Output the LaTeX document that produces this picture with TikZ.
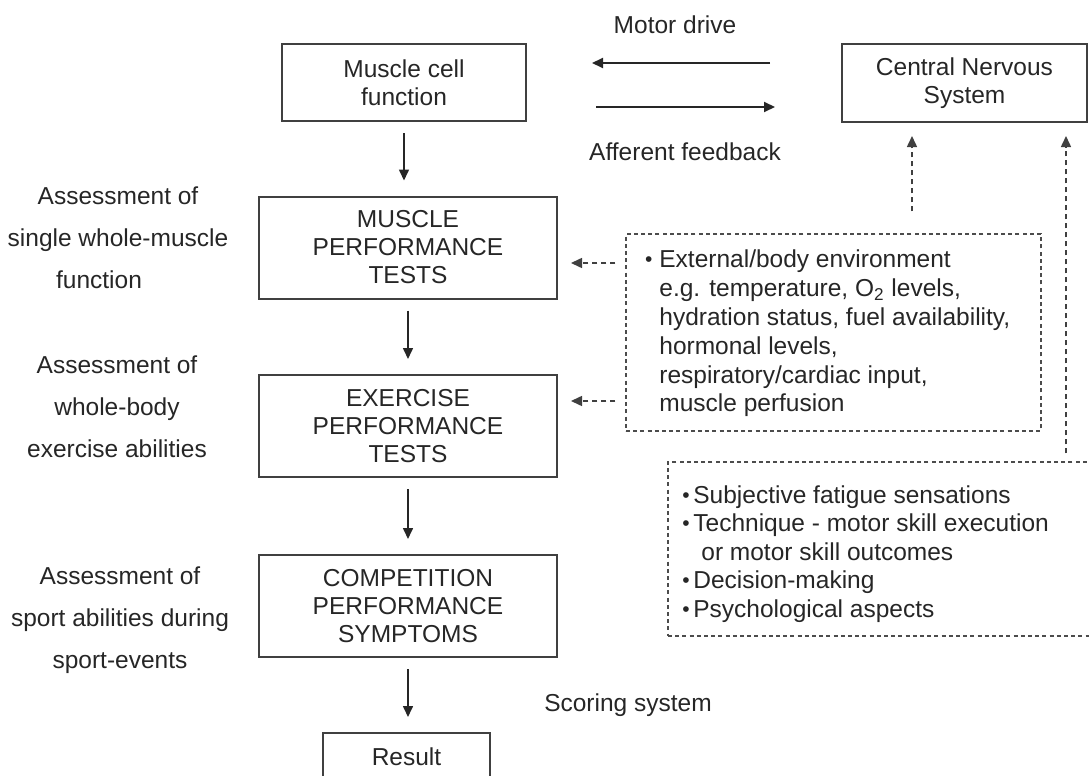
\documentclass[tikz,border=0pt]{standalone}
\usepackage{fontspec}
\setmainfont{Liberation Sans}
\usetikzlibrary{arrows.meta}
\newcommand\bul{\raisebox{0.6pt}{\fontsize{10.5}{10.5}\selectfont\textbullet}}
\begin{document}
\begin{tikzpicture}[x=0.5pt,y=-0.5pt,
  every node/.style={font=\fontsize{12.25}{14}\selectfont, text=black!85, inner sep=0pt},
  box/.style={draw=black!75, line width=1pt, align=center},
  dbox/.style={draw=black!70, line width=0.75pt, dash pattern=on 2pt off 1.6pt},
  lbl/.style={align=center, font=\fontsize{12.25}{21}\selectfont},
  btxt/.style={align=left, anchor=west},
  arr/.style={-{Triangle[length=5.5pt,width=5pt]}, draw=black!85, line width=0.8pt},
  harr/.style={-{Triangle[length=5.5pt,width=5pt]}, draw=black!85, line width=1pt},
  darr/.style={-{Triangle[length=5.5pt,width=5pt]}, draw=black!75, line width=0.75pt, dash pattern=on 2.5pt off 2pt}]
\useasboundingbox (0,0) rectangle (1089,776);
\clip (0,0) rectangle (1089,776);

% main boxes
\node[box, minimum width=122pt, minimum height=38.5pt] (mcf) at (404,82.5) {Muscle cell\\function};
\node[box, minimum width=122.5pt, minimum height=39pt] (cns) at (964.5,83) {Central Nervous\\System};
\node[box, minimum width=149pt, minimum height=51pt] (mpt) at (408,247.5) {MUSCLE\\PERFORMANCE\\TESTS};
\node[box, minimum width=149pt, minimum height=51pt] (ept) at (408,426) {EXERCISE\\PERFORMANCE\\TESTS};
\node[box, minimum width=149pt, minimum height=51pt] (cps) at (408,606) {COMPETITION\\PERFORMANCE\\SYMPTOMS};
\node[box, minimum width=83.5pt, minimum height=24pt] (res) at (406.5,757) {Result};

% dashed boxes
\node[dbox, minimum width=207.5pt, minimum height=98.5pt] (ext) at (833.5,332.5) {};
\node[btxt, font=\fontsize{12.25}{14.4}\selectfont] (exttxt) at (659,333.5) {\llap{\bul\hspace{3.5pt}}External/body environment\\
e.g. temperature, O\textsubscript{2} levels,\\
hydration status, fuel availability,\\
hormonal levels,\\
respiratory/cardiac input,\\
muscle perfusion};
\node[dbox, minimum width=216pt, minimum height=87pt] (psy) at (884,549) {};
\node[btxt, font=\fontsize{12.25}{14.25}\selectfont] (psytxt) at (693,554) {\llap{\bul\hspace{1.8pt}}Subjective fatigue sensations\\
\llap{\bul\hspace{1.8pt}}Technique - motor skill execution\\
\hspace*{4pt}or motor skill outcomes\\
\llap{\bul\hspace{1.8pt}}Decision-making\\
\llap{\bul\hspace{1.8pt}}Psychological aspects};

% labels
\node (md) at (675,25) {Motor drive};
\node (af) at (685,152) {Afferent feedback};
\node (sc) at (628,705) {Scoring system};
\node[lbl] (l1) at (118,238) {Assessment of\\single whole-muscle\\function\hspace*{19pt}};
\node[lbl] (l2) at (117,407) {Assessment of\\whole-body\\exercise abilities};
\node[lbl] (l3) at (120,620) {Assessment of\\sport abilities during\\sport-events};

% vertical arrows
\draw[arr, shorten <=5.5pt, shorten >=7.5pt] (mcf.south) -- (mcf.south |- mpt.north);
\draw[arr, shorten <=5.5pt, shorten >=7.5pt] (mpt.south) -- (ept.north);
\draw[arr, shorten <=5.5pt, shorten >=7.5pt] (ept.south) -- (cps.north);
\draw[arr, shorten <=5.5pt, shorten >=7.5pt] (cps.south) -- (cps.south |- res.north);

% motor drive / afferent feedback
\coordinate (mdA) at (770,63);
\coordinate (mdB) at (592,63);
\coordinate (afA) at (596,107);
\coordinate (afB) at (775,107);
\draw[harr] (mdA) -- (mdB);
\draw[harr] (afA) -- (afB);

% dashed arrows
\coordinate (y1) at (0,263);
\coordinate (y2) at (0,401);
\coordinate (xL) at (912,0);
\coordinate (xR) at (1066,0);
\draw[darr, shorten <=5pt, shorten >=6.5pt] (ext.west |- y1) -- (mpt.east |- y1);
\draw[darr, shorten <=5pt, shorten >=6.5pt] (ext.west |- y2) -- (ept.east |- y2);
\draw[darr, shorten <=11pt, shorten >=6.5pt] (ext.north -| xL) -- (cns.south -| xL);
\draw[darr, shorten <=4pt, shorten >=6.5pt] (psy.north -| xR) -- (cns.south -| xR);
\end{tikzpicture}
\end{document}
